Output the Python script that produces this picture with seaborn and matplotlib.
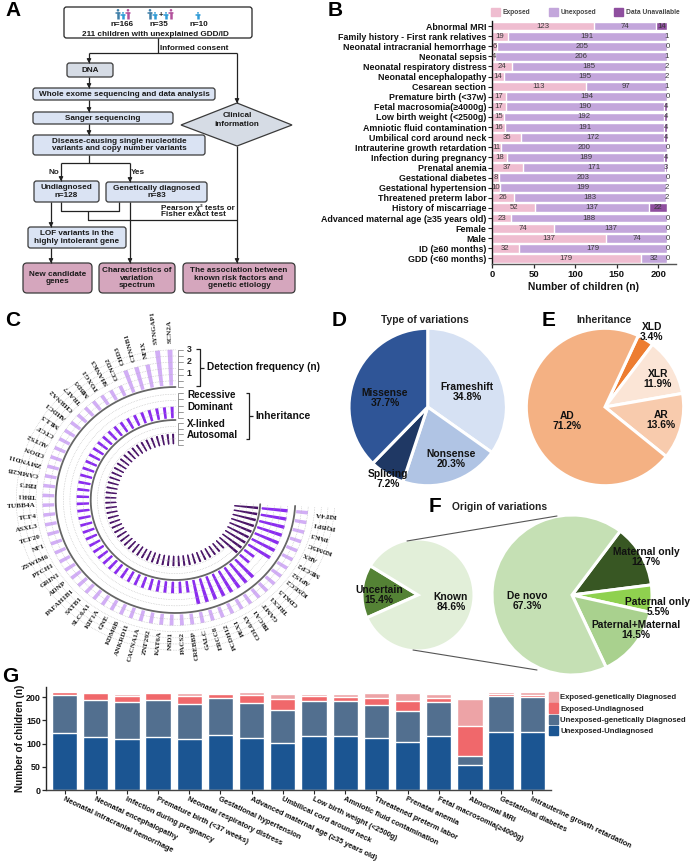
import numpy as np
import matplotlib
matplotlib.use('Agg')
import matplotlib.pyplot as plt
import seaborn as sns
from matplotlib.patches import FancyBboxPatch, Polygon, Circle, Patch

# ---------- panel B data ----------
risk_names = ['Abnormal MRI', 'Family history - First rank relatives', 'Neonatal intracranial hemorrhage',
              'Neonatal sepsis', 'Neonatal respiratory distress', 'Neonatal encephalopathy', 'Cesarean section',
              'Premature birth (<37w)', 'Fetal macrosomia(≥4000g)', 'Low birth weight (<2500g)',
              'Amniotic fluid contamination', 'Umbilical cord around neck', 'Intrauterine growth retardation',
              'Infection during pregnancy', 'Prenatal anemia', 'Gestational diabetes', 'Gestational hypertension',
              'Threatened preterm labor', 'History of miscarriage', 'Advanced maternal age (≥35 years old)',
              'Female', 'Male', 'ID (≥60 months)', 'GDD (<60 months)']
exposed = [123, 19, 6, 4, 24, 14, 113, 17, 17, 15, 16, 35, 11, 18, 37, 8, 10, 26, 52, 23, 74, 137, 32, 179]
unexposed = [74, 191, 205, 206, 185, 195, 97, 194, 190, 192, 191, 172, 200, 189, 171, 203, 199, 183, 137, 188,
             137, 74, 179, 32]
unavailable = [14, 1, 0, 1, 2, 2, 1, 0, 4, 4, 4, 4, 0, 4, 3, 0, 2, 2, 22, 0, 0, 0, 0, 0]

# ---------- panel C data ----------
genes = ['SCN2A', 'SYNGAP1', 'NFIX', 'CTNNB1', 'CHD3', 'CCND2', 'SHANK3', 'FOXG1', 'MBD5', 'TRAF7', 'CHRNA2',
         'AHDC1', 'MLL3', 'CTCF', 'AUTS2', 'CDON', 'ZMYND11', 'CAMK2B', 'EBF3', 'TBR1', 'TUBB4A', 'TCF4', 'ASXL3',
         'TCF20', 'NF1', 'ZSWIM6', 'PTCH1', 'GRIN1', 'ADNP', 'PAFAH1B1', 'SATB1', 'SLC6A1', 'KIF1A', 'GNE', 'KDM6B',
         'ANKRD11', 'CACNA1A', 'ZNF292', 'KAT6A', 'NSD1', 'PACS2', 'CREBBP', 'GALC', 'ERCC8', 'PCDH12', 'PEX1',
         'COL6A3', 'BRCA1', 'GAMT', 'TREX1', 'CDKL5', 'IQSEC2', 'AP1S2', 'MECP2', 'ARX', 'KDM5C', 'PAK3', 'PQBP1',
         'KIF4A']
detections = [3, 3, 2, 2, 2] + [1] * 54
# 1 = dominant, 2 = recessive
dominance = [1] * 42 + [2] * 8 + [1] * 2 + [2] * 7
# 1 = autosomal, 2 = X-linked
linkage = [1] * 50 + [2] * 9

# ---------- pies ----------
variation_names = ['Frameshift', 'Nonsense', 'Splicing', 'Missense']
variation_pct = [34.8, 20.3, 7.2, 37.7]
inherit_names = ['XLD', 'XLR', 'AR', 'AD']
inherit_pct = [3.4, 11.9, 13.6, 71.2]
known_names = ['Uncertain', 'Known']
known_pct = [15.4, 84.6]
origin_names = ['Maternal only', 'Paternal only', 'Paternal+Maternal', 'De novo']
origin_pct = [12.7, 5.5, 14.5, 67.3]

# ---------- panel G data ----------
stack_names = ['Neonatal intracranial hemorrhage', 'Neonatal encephalopathy', 'Infection during pregnancy',
               'Premature birth (<37 weeks)', 'Neonatal respiratory distress', 'Gestational hypertension',
               'Advanced maternal age (≥35 years old)', 'Umbilical cord around neck', 'Low birth weight (<2500g)',
               'Amniotic fluid contamination', 'Threatened preterm labor', 'Prenatal anemia',
               'Fetal macrosomia(≥4000g)', 'Abnormal MRI', 'Gestational diabetes', 'Intrauterine growth retardation']
unexp_undiag = [122, 114, 110, 114, 110, 119, 112, 102, 116, 116, 112, 104, 117, 54, 124, 124]
unexp_gen = [83, 81, 79, 80, 75, 80, 76, 70, 76, 75, 71, 67, 73, 20, 79, 76]
exp_undiag = [6, 13, 14, 14, 17, 8, 16, 24, 10, 10, 15, 21, 9, 64, 3, 4]
exp_gen = [0, 1, 4, 3, 7, 2, 7, 11, 5, 6, 11, 16, 8, 59, 5, 7]

W, H = 691, 861
sns.set_theme(style='ticks')
plt.rcParams['font.family'] = ['Liberation Sans', 'DejaVu Sans']
plt.rcParams['font.weight'] = 'bold'
plt.rcParams['axes.labelweight'] = 'bold'
plt.rcParams['axes.linewidth'] = 1.0

fig = plt.figure(figsize=(W / 100, H / 100), dpi=100, facecolor='white')


def px_axes(x0, y0, x1, y1, **kw):
    return fig.add_axes([x0 / W, 1 - y1 / H, (x1 - x0) / W, (y1 - y0) / H], **kw)


# overlay in pixel coordinates for flowchart, letters and pie labels
ov = px_axes(0, 0, W, H)
ov.set_xlim(0, W)
ov.set_ylim(H, 0)
ov.axis('off')
ov.set_zorder(10)
ov.patch.set_alpha(0)

for letter, lx, ly in [('A', 13, 11), ('B', 335, 11), ('C', 13, 320), ('D', 339, 320), ('E', 549, 320),
                       ('F', 435, 507), ('G', 10, 677)]:
    ov.text(lx, ly, letter, fontsize=15, fontweight='bold', ha='center', va='center', color='black')


# ---------- A: flowchart ----------
def box(x0, y0, x1, y1, fc, lines, size=5.9, ec='#3a3a3a', pad=2.5):
    ov.add_patch(FancyBboxPatch((x0 + pad, y0 + pad), x1 - x0 - 2 * pad, y1 - y0 - 2 * pad,
                                boxstyle=f'round,pad={pad}', fc=fc, ec=ec, lw=0.9))
    if lines:
        ov.text((x0 + x1) / 2, (y0 + y1) / 2, lines, ha='center', va='center', fontsize=size,
                linespacing=1.15, color='#1a1a1a')


def seg(*pts, arrow=False, color='#222222', lw=0.9):
    xs = [p[0] for p in pts]
    ys = [p[1] for p in pts]
    ov.plot(xs, ys, color=color, lw=lw, solid_capstyle='butt')
    if arrow:
        ov.annotate('', xy=pts[-1], xytext=(pts[-1][0], pts[-1][1] - 4),
                    arrowprops=dict(arrowstyle='-|>,head_width=0.1,head_length=0.18', color='#222222',
                                    lw=0.9, shrinkA=0, shrinkB=0))


def person(x, y, h, color):
    ov.add_patch(Circle((x, y + h * 0.13), h * 0.13, fc=color, ec='none'))
    ov.plot([x, x], [y + h * 0.3, y + h], color=color, lw=1.8, solid_capstyle='butt')
    ov.plot([x - 2, x + 2], [y + h * 0.38, y + h * 0.38], color=color, lw=1.1, solid_capstyle='round')


box(64, 7, 252, 38, 'white', None, ec='#222222')
blue, kid, pink = '#3f7fa8', '#2f9bd6', '#b2519c'
for px_, h_, c_ in [(118, 10, blue), (123, 7, kid), (128, 10, pink), (150, 10, blue), (155, 7, kid),
                    (166, 7, kid), (171, 10, pink), (198, 7, kid)]:
    person(px_, 19 - h_, h_, c_)
ov.text(161, 15, '+', ha='center', va='center', fontsize=5.5)
for tx, s in [(122, 'n=166'), (159, 'n=35'), (199, 'n=10')]:
    ov.text(tx, 24, s, ha='center', va='center', fontsize=5.9, color='#1a1a1a')
ov.text(155, 34, '211 children with unexplained GDD/ID', ha='center', va='center', fontsize=5.9, color='#1a1a1a')

seg((158, 38), (158, 52.5))
seg((89, 52.5), (237, 52.5))
seg((89, 52.5), (89, 63), arrow=True)
seg((237, 52.5), (237, 103), arrow=True)
ov.text(160, 48, 'Informed consent', ha='left', va='center', fontsize=5.9, color='#1a1a1a')

blue_fc = '#dae3f3'
box(67, 63, 113, 77, '#d6dce5', 'DNA')
box(33, 88, 215, 100, blue_fc, 'Whole exome sequencing and data analysis')
box(33, 112, 173, 124, blue_fc, 'Sanger sequencing')
box(33, 135, 205, 155, blue_fc, 'Disease-causing single nucleotide\nvariants and copy number variants')
seg((89, 77), (89, 88), arrow=True)
seg((89, 100), (89, 112), arrow=True)
seg((89, 124), (89, 135), arrow=True)
seg((89, 155), (89, 163))
seg((61, 163), (130, 163))
seg((61, 163), (61, 181), arrow=True)
seg((130, 163), (130, 182), arrow=True)
ov.text(54, 173, 'No', ha='center', va='center', fontsize=5.9)
ov.text(138, 173, 'Yes', ha='center', va='center', fontsize=5.9)
box(34, 181, 99, 202, blue_fc, 'Undiagnosed\nn=128')
box(106, 182, 207, 202, blue_fc, 'Genetically diagnosed\nn=83')
seg((61, 202), (61, 211), (119, 211), (119, 202))
seg((88, 211), (88, 220), (237, 220))
seg((51, 202), (51, 227), arrow=True)
box(28, 227, 126, 248, blue_fc, 'LOF variants in the\nhighly intolerant gene')
seg((51, 248), (51, 263), arrow=True)
seg((130, 202), (130, 263), arrow=True)
ov.add_patch(Polygon([(181, 125), (237, 103), (292, 125), (237, 146)], closed=True, fc='#d6dce5', ec='#3a3a3a', lw=0.9))
ov.text(237, 120, 'Clinical\ninformation', ha='center', va='center', fontsize=5.9, linespacing=1.3, color='#1a1a1a')
seg((237, 146), (237, 263), arrow=True)
ov.text(161, 208, 'Pearson χ² tests or', ha='left', va='center', fontsize=5.9, color='#1a1a1a')
ov.text(161, 215, 'Fisher exact test', ha='left', va='center', fontsize=5.9, color='#1a1a1a')
pink_fc = '#d5a6bd'
box(23, 263, 92, 293, pink_fc, 'New candidate\ngenes', size=5.9, pad=4)
box(99, 263, 175, 293, pink_fc, 'Characteristics of\nvariation\nspectrum', size=5.9, pad=4)
box(183, 263, 295, 293, pink_fc, 'The association between\nknown risk factors and\ngenetic etiology', size=5.9, pad=4)

# ---------- B: stacked bars ----------
ax_b = px_axes(492, 21, 676, 263.5)
exposed_arr = np.array(exposed)
unexposed_arr = np.array(unexposed)
unavail_arr = np.array(unavailable)
b_colors = ['#efbdd0', '#c3a6db', '#8f4f9f']
sns.barplot(x=exposed_arr + unexposed_arr + unavail_arr, y=risk_names, color=b_colors[2], saturation=1,
            width=0.88, orient='y', ax=ax_b)
sns.barplot(x=exposed_arr + unexposed_arr, y=risk_names, color=b_colors[1], saturation=1, width=0.88,
            orient='y', ax=ax_b)
sns.barplot(x=exposed_arr, y=risk_names, color=b_colors[0], saturation=1, width=0.88, orient='y', ax=ax_b)
for i in range(len(risk_names)):
    e, u, n = exposed[i], unexposed[i], unavailable[i]
    for val, mid in [(e, e / 2), (u, e + u / 2), (n, e + u + n / 2)]:
        ax_b.text(mid, i, str(val), ha='center', va='center', fontsize=5.6, fontweight='normal', color='#3a3a3a')
ax_b.set_xlim(0, 221.3)
ax_b.set_ylim(23.5, -0.5)
ax_b.set_xticks([0, 50, 100, 150, 200])
ax_b.set_xlabel('Number of children (n)', fontsize=7.4, labelpad=2, color='#111111')
ax_b.set_ylabel('')
ax_b.tick_params(axis='y', length=3, width=0.8, labelsize=6.4, pad=1, labelcolor='#111111')
ax_b.tick_params(axis='x', length=3, width=0.9, labelsize=6.8, pad=2, labelcolor='#111111')
ax_b.spines['bottom'].set_color('#555555')
ax_b.spines['left'].set_color('#111111')
sns.despine(ax=ax_b)
ax_b.legend(handles=[Patch(color=c) for c in b_colors], labels=['Exposed', 'Unexposed', 'Data Unavailable'],
            ncols=3, frameon=False, fontsize=4.8, labelcolor='#444444', handlelength=1.35, handleheight=1.3,
            handletextpad=0.4, columnspacing=2.75, loc='lower left', bbox_to_anchor=(-0.005, 1.02), borderpad=0,
            borderaxespad=0)

# ---------- C: circular bars ----------
# the rings in the picture are slightly wider than tall, so the polar box is stretched
cx, cy, rmax, stretch = 175.5, 500, 170, 1.06
ax_c = px_axes(cx - rmax * stretch, cy - rmax, cx + rmax * stretch, cy + rmax, projection='polar')
ax_c.set_aspect('auto')
ax_c.set_theta_zero_location('N')
ax_c.set_theta_direction(1)
ax_c.set_rlim(0, rmax)
ax_c.axis('off')
ax_c.patch.set_alpha(0)
step = 4.52
deg = 2 + step * np.arange(len(genes))
th = np.deg2rad(deg)
arc = np.deg2rad(np.linspace(0, 267, 300))
outer_base, mid_base, in_base, unit = 113, 81, 55, 12.4
for base, n_levels in [(outer_base, 3), (mid_base, 2), (in_base, 2)]:
    for k in np.arange(0.5, n_levels + 0.5, 0.5):
        ax_c.plot(arc, np.full_like(arc, base + k * unit), ls=':', lw=0.45, color='#b5b5b5')
ax_c.plot(arc, np.full_like(arc, outer_base), color='#666666', lw=1.3)
ax_c.plot(arc, np.full_like(arc, mid_base - 1), color='#666666', lw=1.3)
ax_c.bar(th, np.array(detections) * unit, width=np.deg2rad(2.3), bottom=outer_base + 0.8, color='#d2aef6')
ax_c.bar(th, np.array(dominance) * (unit + 0.6), width=np.deg2rad(2.6), bottom=mid_base, color='#8b2cf0')
ax_c.bar(th, np.array(linkage) * (unit - 0.4), width=np.deg2rad(2.9), bottom=in_base, color='#4a1468')
for t, d, name, v in zip(th, deg, genes, detections):
    upright = d > 90
    ax_c.text(t, outer_base + v * unit + 6.5, name, rotation=d - 90 if upright else d + 90, rotation_mode='anchor',
              ha='right' if upright else 'left', va='center', fontsize=5.2, family='Liberation Serif',
              fontweight='bold', color='#222222')

# scale ticks and brackets next to the rings
for y0_, y1_, ny in [(350, 387, 7), (393, 418, 5), (423, 445, 5)]:
    seg((178, y0_), (178, y1_), color='#888888', lw=0.6)
    for ty in np.linspace(y0_, y1_, ny):
        ov.plot([178, 183], [ty, ty], color='#888888', lw=0.6)
for ty, s in [(350, '3'), (362, '2'), (373, '1')]:
    ov.text(189, ty, s, ha='center', va='center', fontsize=6.3)
for ty, s in [(395, 'Recessive'), (407, 'Dominant'), (424, 'X-linked'), (435, 'Autosomal')]:
    ov.text(187, ty, s, ha='left', va='center', fontsize=7.1, color='#111111')
seg((196, 349), (200, 349), (200, 386), (196, 386))
seg((200, 367.5), (204, 367.5))
ov.text(207, 367.5, 'Detection frequency (n)', ha='left', va='center', fontsize=7.3, color='#111111')
seg((246, 393), (249.5, 393), (249.5, 439), (246, 439))
seg((249.5, 416), (253, 416))
ov.text(255, 416, 'Inheritance', ha='left', va='center', fontsize=7.4, color='#111111')


# ---------- D, E, F: pies ----------
def pie(x, y, r, values, colors, start, lw=2.2):
    f = 1.1
    ax = px_axes(x - r * f, y - r * f, x + r * f, y + r * f)
    ax.pie(values, colors=colors, startangle=start, counterclock=False,
           wedgeprops=dict(edgecolor='white', linewidth=lw))
    ax.set_xlim(-f, f)
    ax.set_ylim(-f, f)
    return ax


def pie_labels(names, pcts, spots):
    for nm, pc, (lx, ly) in zip(names, pcts, spots):
        ov.text(lx, ly, f'{nm}\n{pc}%', ha='center', va='center', fontsize=7.4, linespacing=1.12,
                color='#111111')


pie(427.7, 407, 78.7, variation_pct, ['#d6e1f3', '#b0c4e4', '#1f3864', '#2f5597'], 90)
ov.text(425, 320, 'Type of variations', ha='center', va='center', fontsize=7.4, color='#222222')
pie_labels(variation_names, variation_pct, [(467, 392), (451, 459), (388, 479), (385, 398)])

pie(605, 407, 78.7, inherit_pct, ['#ed7d31', '#fbe5d6', '#f8cbad', '#f4b183'], 65)
ov.text(604, 320, 'Inheritance', ha='center', va='center', fontsize=7.4, color='#222222')
pie_labels(inherit_names, inherit_pct, [(652, 332), (658, 379), (661, 420), (567, 421)])

pie(418, 595, 56, known_pct, ['#548235', '#e2efd9'], 204)
pie(572, 595, 80, origin_pct, ['#385723', '#8fd14f', '#a9d18e', '#c5e0b4'], 53)
ov.text(500, 507, 'Origin of variations', ha='center', va='center', fontsize=7.4, color='#222222')
ov.plot([407, 557], [541, 516], color='#555555', lw=0.8)
ov.plot([413, 537], [650, 670], color='#555555', lw=0.8)
pie_labels(known_names, known_pct, [(379, 595), (451, 602)])
pie_labels(origin_names, origin_pct, [(646, 557), (658, 607), (636, 630), (527, 601)])

# ---------- G: stacked bars ----------
ax_g = px_axes(46.5, 687, 551, 790)
g_colors = ['#1b5592', '#526f8f', '#f0686b', '#eda3a6']
g_labels = ['Unexposed-Undiagnosed', 'Unexposed-genetically Diagnosed', 'Exposed-Undiagnosed',
            'Exposed-genetically Diagnosed']
layers = np.cumsum([unexp_undiag, unexp_gen, exp_undiag, exp_gen], axis=0)
for lay, col in zip(layers[::-1], g_colors[::-1]):
    sns.barplot(x=stack_names, y=lay, color=col, saturation=1, width=0.81, ax=ax_g)
ax_g.set_xlim(-0.58, 15.6)
ax_g.set_ylim(0, 222)
ax_g.set_yticks([0, 50, 100, 150, 200])
ax_g.set_ylabel('Number of children (n)', fontsize=7.2, labelpad=1, color='#111111')
ax_g.set_xlabel('')
ax_g.tick_params(axis='y', length=3, width=0.9, labelsize=6.4, pad=1, labelcolor='#111111')
ax_g.tick_params(axis='x', length=3, width=0.8, labelsize=5.4, pad=1, labelcolor='#111111')
plt.setp(ax_g.get_xticklabels(), rotation=-25.5, ha='left', rotation_mode='anchor')
ax_g.spines['bottom'].set_color('#444444')
sns.despine(ax=ax_g)
handles = [Patch(color=c) for c in g_colors[::-1]]
ax_g.legend(handles=handles, labels=g_labels[::-1], frameon=False, fontsize=5.55, labelcolor='#222222',
            handlelength=1.15, handleheight=1.5, handletextpad=0.25, labelspacing=0.24, loc='upper left',
            bbox_to_anchor=(0.997, 0.95), borderpad=0, borderaxespad=0)

fig.savefig('out.png', dpi=100)
